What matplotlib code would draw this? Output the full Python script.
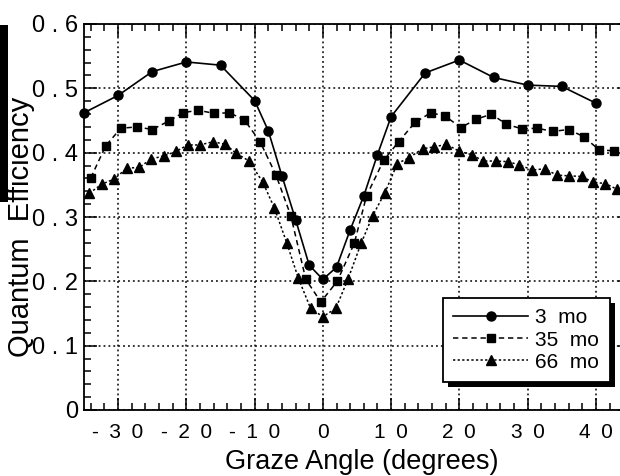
import numpy as np
import matplotlib
matplotlib.use('Agg')
import matplotlib.pyplot as plt
from matplotlib.patches import Rectangle
from matplotlib.ticker import MultipleLocator, FixedLocator, FixedFormatter

plt.rcParams['font.family'] = ['Liberation Sans', 'DejaVu Sans']

# 3 months
angle_3mo = [-35, -30, -25, -20, -15, -10, -8, -6, -4, -2, 0, 2, 4, 6, 8, 10,
             15, 20, 25, 30, 35, 40]
qe_3mo = [0.462, 0.489, 0.526, 0.541, 0.536, 0.481, 0.434, 0.364, 0.296, 0.225,
          0.203, 0.222, 0.280, 0.333, 0.397, 0.456, 0.524, 0.544, 0.517, 0.505,
          0.503, 0.477]

# 35 months
angle_35mo = [-34.0, -31.8, -29.6, -27.2, -25.0, -22.6, -20.5, -18.3, -15.9, -13.7,
              -11.5, -9.2, -6.9, -4.7, -2.5, -0.3, 2.1, 4.6, 6.4, 8.9, 11.1, 13.5,
              15.8, 17.9, 20.2, 22.5, 24.7, 26.9, 29.2, 31.4, 33.7, 36.0, 38.2,
              40.5, 42.7]
qe_35mo = [0.361, 0.411, 0.438, 0.440, 0.436, 0.449, 0.462, 0.466, 0.461, 0.462,
           0.451, 0.417, 0.366, 0.302, 0.203, 0.168, 0.200, 0.259, 0.333, 0.388,
           0.417, 0.447, 0.462, 0.457, 0.439, 0.452, 0.460, 0.444, 0.437, 0.438,
           0.433, 0.436, 0.425, 0.404, 0.403]

# 66 months
angle_66mo = [-34.2, -32.4, -30.6, -28.7, -26.9, -25.2, -23.3, -21.5, -19.8, -18.0,
              -16.1, -14.3, -12.7, -10.8, -8.8, -7.1, -5.3, -3.6, -1.8, 0.0, 1.9,
              3.7, 5.6, 7.3, 9.1, 10.9, 12.6, 14.6, 16.3, 18.1, 20.0, 21.8, 23.5,
              25.3, 27.1, 28.8, 30.7, 32.5, 34.3, 36.1, 37.9, 39.6, 41.4, 43.1]
qe_66mo = [0.337, 0.351, 0.359, 0.376, 0.377, 0.390, 0.395, 0.402, 0.412, 0.412,
           0.417, 0.413, 0.399, 0.387, 0.354, 0.314, 0.260, 0.205, 0.158, 0.145,
           0.158, 0.204, 0.259, 0.302, 0.338, 0.383, 0.392, 0.406, 0.409, 0.413,
           0.402, 0.397, 0.387, 0.387, 0.386, 0.381, 0.373, 0.375, 0.365, 0.364,
           0.363, 0.354, 0.352, 0.343]

x_ticks = [-30, -20, -10, 0, 10, 20, 30, 40]
x_tick_labels = ['-\u20023\u20020', '-\u20022\u20020', '-\u20021\u20020', '0',
                 '1\u20020', '2\u20020', '3\u20020', '4\u20020']
y_ticks = [0, 0.1, 0.2, 0.3, 0.4, 0.5, 0.6]
y_tick_labels = ['0', '0 . 1', '0 . 2', '0 . 3', '0 . 4', '0 . 5', '0 . 6']

fig = plt.figure(figsize=(6.2, 4.76), dpi=100)
ax = fig.add_axes([84 / 620, 66 / 476, 546 / 620, 386 / 476])

ax.plot(angle_3mo, qe_3mo, color='black', lw=1.2, marker='o', ms=6.5,
        label='3  mo', clip_on=False, zorder=4)
ax.plot(angle_35mo, qe_35mo, color='black', lw=1.1, ls=(0, (3.5, 2.5)),
        marker='s', ms=5.8, label='35  mo', clip_on=False, zorder=3)
ax.plot(angle_66mo, qe_66mo, color='black', lw=1.1, ls=(0, (1.5, 1.5)),
        marker='^', ms=6.5, label='66  mo', clip_on=False, zorder=3)

ax.set_xlim(-35, 45)
ax.set_ylim(0, 0.6)

ax.xaxis.set_major_locator(FixedLocator(x_ticks))
ax.xaxis.set_major_formatter(FixedFormatter(x_tick_labels))
ax.yaxis.set_major_locator(FixedLocator(y_ticks))
ax.yaxis.set_major_formatter(FixedFormatter(y_tick_labels))
ax.xaxis.set_minor_locator(MultipleLocator(2))
ax.yaxis.set_minor_locator(MultipleLocator(0.02))

ax.tick_params(which='both', direction='in', top=True, right=True, width=1.1,
               color='black')
ax.tick_params(which='major', length=9)
ax.tick_params(which='minor', length=5)
ax.tick_params(axis='x', labelsize=15, pad=9)
ax.tick_params(axis='y', labelsize=17, pad=4)

for sp in ax.spines.values():
    sp.set_linewidth(1.3)

ax.grid(True, which='major', color='black', lw=1.1, ls=(0, (1.2, 2.0)))

ax.set_xlabel('Graze Angle (degrees)', fontsize=19.5)
ax.xaxis.set_label_coords((362 - 84) / 546, -(449 - 410) / 386)
ax.set_ylabel('Quantum  Efficiency', fontsize=21)
ax.yaxis.set_label_coords(-(84 - 35) / 546, (410 - 227) / 386)

leg = ax.legend(loc='upper left', bbox_to_anchor=(0.657, 0.29), borderaxespad=0,
                fontsize=15, frameon=True, fancybox=False, framealpha=1,
                edgecolor='black', handlelength=3.6, labelspacing=0.15,
                handletextpad=0.35, borderpad=0.5, numpoints=1)
leg.get_frame().set_linewidth(1.3)
leg.set_zorder(6)

# drop shadow of the legend box
fig.canvas.draw()
bb = leg.get_window_extent().transformed(ax.transAxes.inverted())
dx = 5 / 546
dy = 5 / 386
ax.add_patch(Rectangle((bb.x0 + dx, bb.y0 - dy), bb.width, bb.height,
                       transform=ax.transAxes, facecolor='black',
                       edgecolor='none', zorder=5.5, clip_on=False))

# dark bar at the left edge of the scan
fig.patches.append(Rectangle((0, (476 - 202) / 476), 8 / 620, 177 / 476,
                             transform=fig.transFigure, facecolor='black',
                             edgecolor='none'))

fig.savefig('out.png', dpi=100)
